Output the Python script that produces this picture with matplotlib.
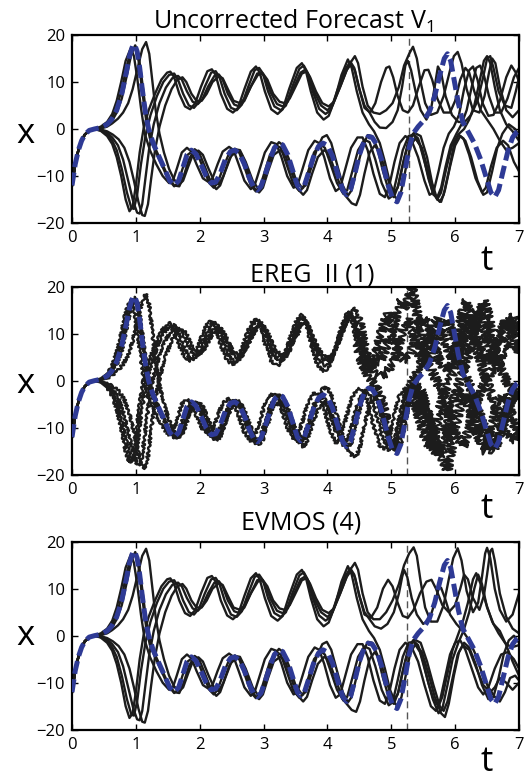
import matplotlib.pyplot as plt
import numpy as np

plt.rcParams['font.family'] = ['Open Sans', 'DejaVu Sans']
plt.rcParams['mathtext.fontset'] = 'custom'
plt.rcParams['mathtext.rm'] = 'Open Sans'

# ---- data, as (t, x) pairs ----
truth = [(0, -12), (0.05, -7.5), (0.1, -4.5), (0.15, -2.5), (0.2, -1.2), (0.27, -0.3), (0.35, 0), (0.45, 0.3),
         (0.55, 1), (0.62, 2), (0.7, 4), (0.78, 7.5), (0.85, 12), (0.9, 15.5), (0.95, 17.7), (0.98, 18),
         (1.02, 16.5), (1.06, 13), (1.1, 8.5), (1.15, 3.5), (1.2, 0), (1.27, -3), (1.35, -5.5), (1.45, -8.5),
         (1.53, -11), (1.6, -12), (1.67, -11), (1.73, -8.5), (1.8, -5.5), (1.87, -4.5), (1.94, -5.3), (2.02, -7.5),
         (2.1, -10), (2.18, -11.5), (2.25, -11.3), (2.32, -9.5), (2.4, -6.5), (2.48, -4.8), (2.55, -4.5),
         (2.62, -5.2), (2.7, -7.5), (2.78, -10.5), (2.85, -12.5), (2.9, -13), (2.96, -12.2), (3.03, -9.5),
         (3.1, -6.5), (3.17, -4), (3.24, -3), (3.3, -3.4), (3.38, -5.5), (3.46, -9), (3.53, -12), (3.58, -12.8),
         (3.64, -12), (3.7, -9.5), (3.78, -6), (3.86, -3.7), (3.93, -3), (4.0, -3.5), (4.08, -5.8), (4.16, -9.5),
         (4.24, -13), (4.3, -14), (4.36, -13), (4.43, -9.5), (4.5, -5.5), (4.57, -2.8), (4.64, -1.6), (4.7, -1.8),
         (4.78, -3.5), (4.86, -7), (4.94, -11.5), (5.02, -14.8), (5.09, -15.5), (5.15, -13.5), (5.22, -8.5),
         (5.28, -4), (5.34, -1), (5.42, 0.5), (5.52, 2), (5.6, 3.8), (5.68, 7), (5.76, 11.5), (5.83, 15),
         (5.88, 16), (5.93, 14.5), (5.99, 10), (6.05, 5.5), (6.12, 1.5), (6.2, -0.5), (6.3, -3), (6.4, -6.5),
         (6.48, -10), (6.56, -13.5), (6.62, -14.5), (6.68, -13), (6.75, -9), (6.83, -4.5), (6.9, -1.8),
         (6.96, -0.7), (7.0, -0.3)]

start = [(0, -12), (0.05, -7.5), (0.1, -4.5), (0.15, -2.5), (0.2, -1.2), (0.27, -0.3), (0.35, 0)]

# members that swing up first, then live on the lower wing
l1_base = start + [(0.45, 0.5), (0.55, 1.5), (0.63, 3.2), (0.7, 6), (0.77, 10), (0.84, 14.5), (0.92, 17.2),
    (0.97, 15.5), (1.02, 11), (1.08, 4.5), (1.14, -1), (1.22, -4.5), (1.32, -7.5), (1.42, -10), (1.52, -11.5),
    (1.58, -11), (1.64, -8.5), (1.72, -5), (1.8, -4), (1.87, -4.8), (1.95, -7.5), (2.05, -10.5), (2.14, -11.3),
    (2.2, -10.5), (2.28, -7.5), (2.36, -4.8), (2.46, -3.8), (2.53, -4.5), (2.61, -7.5), (2.7, -11), (2.8, -12.8),
    (2.86, -12), (2.94, -8.5), (3.02, -5), (3.12, -2.8), (3.2, -3.2), (3.28, -6), (3.37, -10), (3.47, -12.5),
    (3.53, -12), (3.61, -8.5), (3.7, -4.5), (3.8, -2.5), (3.87, -3), (3.95, -6), (4.04, -10.5), (4.13, -13.2),
    (4.2, -12.5), (4.28, -8.5), (4.37, -4), (4.47, -1.8), (4.55, -1.8), (4.63, -4.5), (4.72, -9.5),
    (4.82, -13.8), (4.9, -14.5), (4.97, -12), (5.05, -7), (5.13, -3), (5.22, -1.5)]
l2_base = start + [(0.45, 0.3), (0.55, 1.1), (0.63, 2.5), (0.7, 4.5), (0.78, 8.5), (0.86, 13.5), (0.93, 17),
    (1.0, 17.3), (1.05, 14), (1.1, 8), (1.16, 2), (1.22, -2), (1.3, -4.5), (1.4, -7.5), (1.5, -10.5), (1.6, -12.2),
    (1.66, -11.5), (1.73, -8.5), (1.81, -5.5), (1.9, -4.6), (1.97, -5.5), (2.06, -8.5), (2.15, -11.5),
    (2.22, -12.5), (2.28, -11.5), (2.36, -8.5), (2.45, -5.5), (2.55, -4.2), (2.62, -5), (2.71, -8.5), (2.8, -12),
    (2.88, -13.3), (2.94, -12.5), (3.02, -9), (3.1, -5.5), (3.2, -3.5), (3.27, -4), (3.36, -7.5), (3.46, -11.5),
    (3.56, -13.2), (3.62, -12.5), (3.7, -9), (3.79, -5), (3.89, -3.3), (3.96, -4), (4.05, -7.5), (4.15, -11.5),
    (4.25, -13.8), (4.31, -13), (4.39, -9), (4.48, -4.5), (4.58, -2.3), (4.66, -2.8), (4.75, -6.5),
    (4.85, -11.5), (4.96, -14.8), (5.02, -14.2), (5.1, -9.5), (5.18, -4.5), (5.27, -1.5)]
l3_base = start + [(0.45, 0.2), (0.55, 0.8), (0.63, 1.8), (0.7, 3.5), (0.78, 6.5), (0.86, 11.5), (0.93, 16),
    (0.99, 17.8), (1.04, 16), (1.09, 11), (1.15, 4.5), (1.21, -0.5), (1.3, -4), (1.4, -7), (1.5, -10), (1.6, -12),
    (1.68, -12.2), (1.75, -10), (1.83, -6.5), (1.92, -4.3), (1.99, -5), (2.08, -8), (2.18, -11.5), (2.26, -12.8),
    (2.32, -12), (2.4, -9), (2.49, -5.8), (2.59, -4.6), (2.66, -5.5), (2.75, -9), (2.85, -12.5), (2.93, -13.5),
    (2.99, -12.5), (3.07, -9), (3.16, -5.5), (3.26, -4.5), (3.33, -5.2), (3.42, -8.5), (3.52, -12.5), (3.62, -14),
    (3.68, -13), (3.76, -9.5), (3.85, -6), (3.95, -4.5), (4.02, -5.2), (4.12, -9), (4.24, -13.5), (4.38, -15.8),
    (4.45, -16.2), (4.51, -14), (4.58, -9.5), (4.66, -5), (4.74, -3.5), (4.82, -5), (4.92, -9.5), (5.03, -14),
    (5.1, -15), (5.16, -13), (5.24, -7.5), (5.3, -3.5)]
l4_base = start + [(0.45, 0.1), (0.55, 0.5), (0.63, 1.2), (0.72, 2.2), (0.8, 3.5), (0.88, 5.5), (0.95, 8.5),
    (1.02, 12.5), (1.1, 17), (1.16, 18.5), (1.21, 16), (1.26, 10), (1.31, 4), (1.37, -1), (1.44, -5), (1.52, -8.5),
    (1.6, -10.8), (1.68, -11.8), (1.74, -11), (1.82, -8), (1.9, -5.2), (1.98, -4.6), (2.05, -5.5), (2.14, -8.5),
    (2.24, -11.5), (2.3, -11.8), (2.37, -10), (2.46, -6.5), (2.55, -4.3), (2.63, -4.5), (2.72, -7), (2.83, -11),
    (2.92, -12.8), (2.98, -12), (3.06, -8.5), (3.15, -4.5), (3.24, -2.8), (3.31, -3.5), (3.4, -6.5), (3.5, -10.5),
    (3.6, -12.5), (3.66, -12), (3.74, -8.5), (3.83, -4.5), (3.92, -1.8), (3.99, -1.3), (4.06, -3), (4.15, -7.5),
    (4.24, -12), (4.32, -14.2), (4.38, -13), (4.46, -8.5), (4.55, -3.8), (4.63, -1.3), (4.7, -1.5), (4.78, -4),
    (4.87, -9), (4.97, -13.5), (5.04, -14.5), (5.11, -12), (5.2, -6.5), (5.28, -2.5)]

# members that dip first, then live on the upper wing
u1_base = start + [(0.45, -0.4), (0.55, -1.5), (0.63, -3.2), (0.7, -6), (0.77, -10), (0.84, -15), (0.9, -17.5),
    (0.95, -16.5), (1.0, -12), (1.06, -5), (1.12, 0), (1.2, 4), (1.3, 7.5), (1.4, 10.5), (1.49, 12), (1.54, 12.2),
    (1.6, 11), (1.68, 7.5), (1.77, 4.8), (1.85, 4.2), (1.93, 5.5), (2.02, 9), (2.12, 12.3), (2.19, 12.7),
    (2.25, 11.5), (2.33, 7.5), (2.43, 4.3), (2.52, 3.5), (2.6, 4.5), (2.7, 8.5), (2.8, 12.2), (2.88, 13.3),
    (2.94, 12), (3.02, 8), (3.12, 4.2), (3.22, 3.2), (3.3, 4.2), (3.4, 8.5), (3.52, 13), (3.6, 14), (3.66, 12.5),
    (3.74, 8), (3.84, 3.5), (3.94, 2), (4.02, 2.8), (4.12, 6.5), (4.22, 11.5), (4.32, 14.8), (4.38, 13),
    (4.46, 8)]
u2_base = start + [(0.45, -0.3), (0.55, -1.1), (0.63, -2.5), (0.7, -4.5), (0.78, -8.5), (0.86, -13.5),
    (0.93, -16.8), (0.97, -17), (1.02, -14), (1.08, -7.5), (1.15, -1.5), (1.23, 3), (1.33, 7), (1.43, 10),
    (1.52, 11.5), (1.6, 11.8), (1.66, 10.5), (1.74, 7.5), (1.83, 5), (1.91, 4.5), (1.99, 5.8), (2.08, 9),
    (2.18, 12), (2.25, 12.3), (2.31, 11), (2.39, 7.5), (2.49, 4.5), (2.58, 4), (2.66, 5.2), (2.76, 9),
    (2.86, 12.5), (2.93, 13), (2.99, 11.8), (3.07, 8), (3.17, 4.8), (3.27, 4), (3.35, 5), (3.45, 9),
    (3.56, 12.8), (3.63, 13.5), (3.69, 12), (3.77, 8), (3.87, 4.3), (3.97, 3.2), (4.05, 4), (4.15, 8),
    (4.27, 12.5), (4.36, 14.3), (4.42, 13), (4.5, 8.5)]
u3_base = start + [(0.45, -0.2), (0.55, -0.8), (0.63, -1.8), (0.72, -3.5), (0.8, -6.5), (0.88, -11),
    (0.96, -15.5), (1.02, -17.8), (1.06, -18), (1.1, -16), (1.15, -10.5), (1.21, -4), (1.28, 1), (1.37, 5.5),
    (1.47, 8.8), (1.57, 10.8), (1.66, 11.3), (1.72, 10.5), (1.8, 8), (1.89, 5.8), (1.97, 5.3), (2.04, 6.3),
    (2.13, 9), (2.23, 11.3), (2.3, 11.6), (2.36, 10.5), (2.44, 7.5), (2.54, 5.2), (2.62, 4.8), (2.7, 6),
    (2.8, 9), (2.9, 11.8), (2.97, 12), (3.03, 10.8), (3.11, 7.8), (3.21, 5.3), (3.3, 4.8), (3.38, 5.8),
    (3.48, 9), (3.58, 12), (3.65, 12.6), (3.71, 11.5), (3.79, 8), (3.9, 5), (4.0, 4), (4.08, 5), (4.2, 9),
    (4.33, 13.5), (4.43, 15.5), (4.48, 14)]
u4_base = start + [(0.45, -0.1), (0.55, -0.5), (0.64, -1.2), (0.73, -2.2), (0.82, -4), (0.9, -7), (0.97, -11),
    (1.04, -15.5), (1.1, -18.3), (1.14, -18.5), (1.19, -16), (1.24, -10.5), (1.3, -4.5), (1.37, 0.5), (1.46, 5),
    (1.56, 8.5), (1.65, 10.5), (1.73, 11), (1.79, 10), (1.87, 7.5), (1.95, 6), (2.03, 6), (2.11, 7.5), (2.2, 10),
    (2.3, 11.2), (2.36, 10.8), (2.44, 8.5), (2.53, 6), (2.63, 5.5), (2.71, 6.5), (2.8, 9), (2.91, 11.5),
    (2.99, 11.8), (3.06, 10.5), (3.15, 7.5), (3.25, 5.8), (3.33, 5.5), (3.41, 6.5), (3.5, 9), (3.6, 11.8),
    (3.67, 12.2), (3.73, 11), (3.82, 8), (3.92, 5.5), (4.02, 4.8), (4.1, 5.8), (4.2, 9), (4.3, 12.5),
    (4.37, 13.8), (4.43, 12.5), (4.5, 8.5)]

# late parts, where the three methods differ
l1_v1 = [(5.32, -2.5), (5.42, -6), (5.52, -11), (5.6, -14), (5.66, -13.5), (5.74, -9), (5.82, -4), (5.9, -1),
         (5.98, 0.5), (6.06, 3), (6.14, 8.5), (6.22, 12.5), (6.28, 13.3), (6.35, 10.5), (6.43, 5.5), (6.52, 2.8),
         (6.6, 3), (6.7, 6), (6.8, 11), (6.88, 13.5), (6.95, 12), (7.0, 10)]
l2_v1 = [(5.35, -1.2), (5.45, -3.5), (5.55, -8.5), (5.65, -13.5), (5.72, -15), (5.78, -13.5), (5.86, -8.5),
         (5.95, -3.5), (6.05, -1.2), (6.13, -2), (6.22, -5.5), (6.32, -10.5), (6.42, -13.5), (6.48, -12.5),
         (6.56, -8), (6.65, -4), (6.75, -2.5), (6.83, -3.5), (6.92, -7), (7.0, -9)]
l3_v1 = [(5.38, -2), (5.48, -4), (5.58, -9), (5.68, -14), (5.76, -15.5), (5.82, -14), (5.9, -9), (5.98, -3.5),
         (6.06, -1), (6.14, 0), (6.22, 2), (6.3, 5), (6.38, 10), (6.45, 14.5), (6.5, 15.5), (6.55, 14), (6.62, 9),
         (6.7, 4), (6.8, 1), (6.9, -0.5), (7.0, -2.5)]
l4_v1 = [(5.36, -0.8), (5.46, -1.5), (5.56, -6), (5.64, -11.5), (5.72, -15), (5.78, -15.5), (5.84, -13),
         (5.92, -8), (6.0, -3.5), (6.08, -1.5), (6.16, -2.5), (6.25, -6), (6.35, -11), (6.44, -14), (6.5, -13.5),
         (6.58, -9), (6.66, -4), (6.74, -1), (6.84, 1), (6.94, 0), (7.0, -1.5)]
u1_v1 = [(4.55, 3.5), (4.65, 1), (4.73, -0.5), (4.82, -3), (4.9, -7), (4.98, -11.5), (5.04, -13.5), (5.1, -12.5),
         (5.18, -7.5), (5.26, -3), (5.34, -1), (5.42, -2), (5.5, -5.5), (5.58, -10.5), (5.66, -14), (5.72, -14.5),
         (5.78, -12.5), (5.85, -8), (5.93, -3.5), (6.02, -1), (6.1, 1), (6.18, 4), (6.26, 9), (6.33, 13),
         (6.39, 13.5), (6.45, 11.5), (6.53, 7), (6.62, 3.5), (6.72, 3.5), (6.82, 6.5), (6.92, 11), (7.0, 13)]
u2_v1 = [(4.58, 4.5), (4.67, 3.5), (4.75, 5.5), (4.84, 10), (4.92, 13), (4.97, 13.3), (5.03, 11), (5.1, 7),
         (5.18, 4), (5.26, 3.5), (5.34, 5), (5.43, 9), (5.52, 12.5), (5.58, 12.6), (5.64, 10.5), (5.72, 6.5),
         (5.82, 3.5), (5.92, 3.5), (6.0, 6), (6.08, 10.5), (6.16, 13), (6.22, 12), (6.3, 8), (6.4, 4), (6.5, 2),
         (6.6, 0), (6.7, -2.5), (6.8, -4.5), (6.9, -4), (7.0, -3)]
u3_v1 = [(4.55, 9), (4.63, 5), (4.72, 3.5), (4.82, 3.2), (4.92, 4), (5.02, 5.5), (5.12, 9), (5.2, 13.5),
         (5.28, 16), (5.34, 17.5), (5.4, 15), (5.46, 10), (5.53, 5.5), (5.62, 3), (5.72, 3.5), (5.82, 7),
         (5.92, 12.5), (5.98, 15.5), (6.04, 16.4), (6.1, 14), (6.18, 8.5), (6.28, 4), (6.38, 3.5), (6.46, 7),
         (6.53, 12), (6.58, 15), (6.63, 14), (6.7, 9), (6.8, 4), (6.9, 2.5), (7.0, 4)]
u4_v1 = [(4.58, 5), (4.66, 3.5), (4.74, 1.5), (4.82, 0.3), (4.92, 0.2), (5.02, 1.5), (5.1, 4), (5.17, 9),
         (5.22, 13.5), (5.26, 14.5), (5.31, 12.5), (5.38, 8), (5.46, 4), (5.55, 2), (5.62, 4), (5.68, 9),
         (5.73, 13.3), (5.78, 12), (5.85, 7), (5.95, 3), (6.05, 1.5), (6.15, 1.5), (6.25, 3), (6.35, 6),
         (6.43, 10.5), (6.5, 15), (6.55, 15.5), (6.6, 13), (6.68, 8), (6.78, 5), (6.88, 4.5), (6.95, 8), (7.0, 11)]

l1_ereg = [(5.32, -2.5), (5.42, -7), (5.52, -12), (5.6, -14), (5.68, -11), (5.78, -5), (5.88, -1), (5.98, 2),
           (6.06, 6), (6.14, 11), (6.22, 14), (6.3, 12), (6.4, 7), (6.5, 4), (6.6, 6), (6.7, 10), (6.8, 13),
           (6.9, 10), (7.0, 6)]
l2_ereg = [(5.35, -1.2), (5.45, -4), (5.55, -9), (5.65, -14), (5.72, -16), (5.8, -13), (5.9, -7), (6.0, -3),
           (6.1, -2), (6.2, -5), (6.3, -10), (6.4, -14), (6.48, -15), (6.56, -11), (6.66, -5), (6.76, -3),
           (6.86, -6), (6.94, -10), (7.0, -12)]
l3_ereg = [(5.38, -1.5), (5.48, -3), (5.58, -7), (5.68, -13), (5.76, -16), (5.84, -14), (5.92, -8), (6.0, -3),
           (6.1, 1), (6.2, 5), (6.3, 10), (6.38, 15), (6.45, 17), (6.52, 14), (6.6, 8), (6.7, 3), (6.8, 0),
           (6.9, -2), (7.0, -4)]
l4_ereg = [(5.36, -0.8), (5.46, -2), (5.56, -6), (5.66, -11), (5.74, -15), (5.82, -17), (5.88, -19), (5.94, -15),
           (6.02, -9), (6.1, -4), (6.2, -3), (6.3, -6), (6.42, -11), (6.52, -14), (6.6, -15), (6.68, -12),
           (6.78, -7), (6.88, -4), (7.0, -3)]
u1_ereg = [(4.55, 3.5), (4.65, 1), (4.73, -0.5), (4.82, -3), (4.9, -7), (4.98, -12), (5.04, -15), (5.1, -13),
           (5.18, -8), (5.26, -3), (5.34, 0), (5.42, 2), (5.5, 5), (5.58, 9), (5.66, 12), (5.72, 13), (5.8, 10),
           (5.9, 6), (6.0, 4), (6.1, 6), (6.2, 10), (6.3, 14), (6.38, 15), (6.46, 11), (6.56, 6), (6.66, 3),
           (6.76, 5), (6.86, 9), (6.94, 12), (7.0, 10)]
u2_ereg = [(4.58, 4.5), (4.68, 3.5), (4.76, 6), (4.86, 11), (4.94, 14), (5.0, 13), (5.08, 9), (5.16, 5),
           (5.24, 4), (5.32, 6), (5.4, 10), (5.5, 13), (5.58, 12), (5.66, 8), (5.76, 4), (5.86, 2), (5.96, 4),
           (6.04, 9), (6.12, 15), (6.18, 17), (6.24, 14), (6.32, 8), (6.42, 3), (6.52, -1), (6.62, -5),
           (6.72, -9), (6.82, -12), (6.92, -13), (7.0, -11)]
u3_ereg = [(4.55, 9), (4.63, 5), (4.72, 3.5), (4.82, 4), (4.92, 7), (5.02, 11), (5.1, 15), (5.16, 17),
           (5.22, 15), (5.28, 18), (5.32, 20), (5.38, 16), (5.46, 10), (5.54, 5), (5.64, 2), (5.74, -1),
           (5.84, -5), (5.94, -9), (6.04, -12), (6.12, -14), (6.2, -11), (6.3, -6), (6.4, -2), (6.5, 0), (6.6, 3),
           (6.7, 8), (6.8, 12), (6.9, 14), (7.0, 11)]
u4_ereg = [(4.58, 5), (4.66, 3.5), (4.74, 2), (4.84, 1), (4.94, 2), (5.04, 4), (5.12, 8), (5.2, 12), (5.26, 13),
           (5.34, 10), (5.42, 6), (5.52, 3), (5.62, 5), (5.72, 9), (5.8, 12), (5.88, 13), (5.96, 10), (6.06, 5),
           (6.16, 1), (6.26, -2), (6.36, -6), (6.46, -10), (6.56, -13), (6.64, -14), (6.72, -11), (6.82, -6),
           (6.92, -3), (7.0, -1)]

l1_evmos = [(5.32, -2.5), (5.42, -5.5), (5.52, -10.5), (5.62, -15), (5.7, -16), (5.76, -14), (5.84, -9),
            (5.92, -4), (6.0, -1.5), (6.08, -1), (6.16, -3), (6.26, -7), (6.36, -11), (6.44, -12.5), (6.52, -11),
            (6.62, -7), (6.72, -4), (6.82, -3.5), (6.92, -5), (7.0, -7)]
l2_evmos = [(5.35, -1.3), (5.45, -3.5), (5.55, -8.5), (5.65, -13.5), (5.74, -16.5), (5.8, -15.5), (5.88, -10.5),
            (5.96, -5), (6.05, -1.5), (6.13, 1), (6.22, 5), (6.3, 10), (6.36, 13), (6.42, 11), (6.5, 6),
            (6.6, 2.5), (6.7, 1), (6.8, -2), (6.9, -5.5), (7.0, -8.5)]
l3_evmos = [(5.38, -1.8), (5.48, -3.5), (5.58, -8), (5.68, -13), (5.78, -16.5), (5.84, -17.3), (5.9, -14.5),
            (5.98, -8.5), (6.06, -3.5), (6.14, -1.5), (6.22, -2.5), (6.32, -6), (6.42, -10.5), (6.52, -13.5),
            (6.6, -13), (6.68, -9), (6.76, -4), (6.84, -1), (6.92, 0), (7.0, -1.5)]
l4_evmos = [(5.36, -0.8), (5.46, -1.5), (5.56, -5.5), (5.66, -10.5), (5.76, -15), (5.82, -16), (5.88, -14),
            (5.96, -9), (6.04, -4), (6.12, -2), (6.22, -3), (6.32, -6.5), (6.44, -10.5), (6.55, -12), (6.62, -11),
            (6.7, -9), (6.8, -10), (6.9, -11.5), (7.0, -10)]
u1_evmos = [(4.55, 3.5), (4.65, 1), (4.73, -0.5), (4.82, -3), (4.9, -7), (4.98, -11.5), (5.04, -13.5),
            (5.1, -12.5), (5.18, -7.5), (5.26, -3), (5.34, -1), (5.42, -2), (5.5, -5.5), (5.58, -10),
            (5.66, -13.5), (5.74, -15), (5.8, -13), (5.88, -8), (5.96, -3), (6.04, 0), (6.12, 3), (6.2, 7),
            (6.28, 12), (6.33, 13.3), (6.4, 11), (6.48, 7), (6.58, 3), (6.68, 0.5), (6.78, -1.5), (6.88, -2.5),
            (7.0, -2)]
u2_evmos = [(4.58, 4.5), (4.68, 3.8), (4.78, 6), (4.87, 10), (4.95, 11.9), (5.02, 10.5), (5.1, 7), (5.18, 4.2),
            (5.26, 3.8), (5.35, 5.5), (5.45, 9), (5.55, 11.5), (5.63, 11.9), (5.7, 10), (5.8, 6.5), (5.9, 5),
            (6.0, 6.5), (6.08, 10), (6.14, 13), (6.2, 12), (6.28, 8), (6.38, 5.5), (6.45, 8.5), (6.5, 13),
            (6.55, 18), (6.58, 18.5), (6.62, 16), (6.7, 9), (6.8, 4), (6.9, 1.5), (7.0, 0.5)]
u3_evmos = [(4.55, 9), (4.63, 5), (4.72, 3.5), (4.82, 3.5), (4.92, 5), (5.02, 7.5), (5.12, 11), (5.2, 15),
            (5.28, 17.5), (5.35, 18.8), (5.4, 17), (5.46, 11.5), (5.53, 6), (5.62, 3), (5.72, 3), (5.82, 6.5),
            (5.9, 12), (5.97, 16.5), (6.04, 18.6), (6.1, 16), (6.18, 9.5), (6.28, 5), (6.36, 7), (6.42, 12.5),
            (6.47, 17.5), (6.5, 18.7), (6.55, 16.5), (6.62, 10), (6.7, 5.5), (6.8, 3), (6.9, 4.5), (7.0, 9)]
u4_evmos = [(4.58, 5), (4.66, 3.5), (4.74, 2), (4.84, 1.5), (4.94, 2.5), (5.04, 5), (5.12, 9), (5.17, 12.5),
            (5.2, 14), (5.25, 12.5), (5.32, 8), (5.4, 4.5), (5.5, 2.5), (5.6, 3.5), (5.68, 7), (5.74, 10),
            (5.78, 10.2), (5.84, 8), (5.92, 4.5), (6.02, 2.5), (6.12, 1), (6.22, -1), (6.32, -4), (6.42, -8),
            (6.52, -11), (6.62, -13), (6.7, -14), (6.78, -12), (6.86, -9), (6.94, -8.5), (7.0, -9.5)]

bases = [l1_base, l2_base, l3_base, l4_base, u1_base, u2_base, u3_base, u4_base]
tails_v1 = [l1_v1, l2_v1, l3_v1, l4_v1, u1_v1, u2_v1, u3_v1, u4_v1]
tails_ereg = [l1_ereg, l2_ereg, l3_ereg, l4_ereg, u1_ereg, u2_ereg, u3_ereg, u4_ereg]
tails_evmos = [l1_evmos, l2_evmos, l3_evmos, l4_evmos, u1_evmos, u2_evmos, u3_evmos, u4_evmos]

titles = ['Uncorrected Forecast V$_\\mathregular{1}$', 'EREG  II (1)', 'EVMOS (4)']
split_t = [5.28, 5.24, 5.24]   # vertical dashed marker in each panel

# ---- figure ----
W, H = 524, 780
fig = plt.figure(figsize=(W / 100, H / 100), dpi=100)
ax_tops = [35, 286.7, 541.7]
title_pos = [(293.5, 28.5), (312, 281), (301, 530)]
xlab_y = [143, 393, 645]
tlab_y = [270, 518, 771]

ink = '#1c1c1c'
blue = '#2e3a95'

for i, tails in enumerate([tails_v1, tails_ereg, tails_evmos]):
    top = ax_tops[i]
    ax = fig.add_axes([72 / W, 1 - (top + 188) / H, 447 / W, 188 / H])
    ax.axvline(split_t[i], color='#555555', lw=1, ls=(0, (5, 3)), zorder=1)
    for base, tail in zip(bases, tails):
        t, x = np.array(base + tail).T
        if i == 1:
            # EREG: noisy trajectories, noise growing with time
            k = np.searchsorted(t, 0.55)
            m = len(base) - 1
            ax.plot(t[:k + 1], x[:k + 1], color=ink, lw=1.7, zorder=2)
            mid, = ax.plot(t[k:m + 1], x[k:m + 1], color=ink, lw=1.7, zorder=2)
            mid.set_sketch_params(1.4, 5, 3)
            late, = ax.plot(t[m:], x[m:], color=ink, lw=1.7, zorder=2)
            late.set_sketch_params(4.5, 5, 3)
        else:
            ax.plot(t, x, color=ink, lw=1.7, zorder=2)
    tt, xx = np.array(truth).T
    ax.plot(tt, xx, color=blue, lw=3.6, ls=(0, (2.6, 1.1)), zorder=3)

    ax.set_xlim(0, 7)
    ax.set_ylim(-20, 20)
    ax.set_xticks(range(8))
    ax.set_yticks([-20, -10, 0, 10, 20])
    ax.tick_params(direction='in', top=True, right=True, length=4, width=1, labelsize=12, pad=5)
    for s in ax.spines.values():
        s.set_linewidth(1.6)

    tx, ty = title_pos[i]
    fig.text(tx / W, 1 - ty / H, titles[i], ha='center', va='baseline', fontsize=18)
    fig.text(25 / W, 1 - xlab_y[i] / H, 'x', ha='center', va='baseline', fontsize=25)
    fig.text(487 / W, 1 - tlab_y[i] / H, 't', ha='center', va='baseline', fontsize=25)

fig.savefig('out.png', dpi=100)
